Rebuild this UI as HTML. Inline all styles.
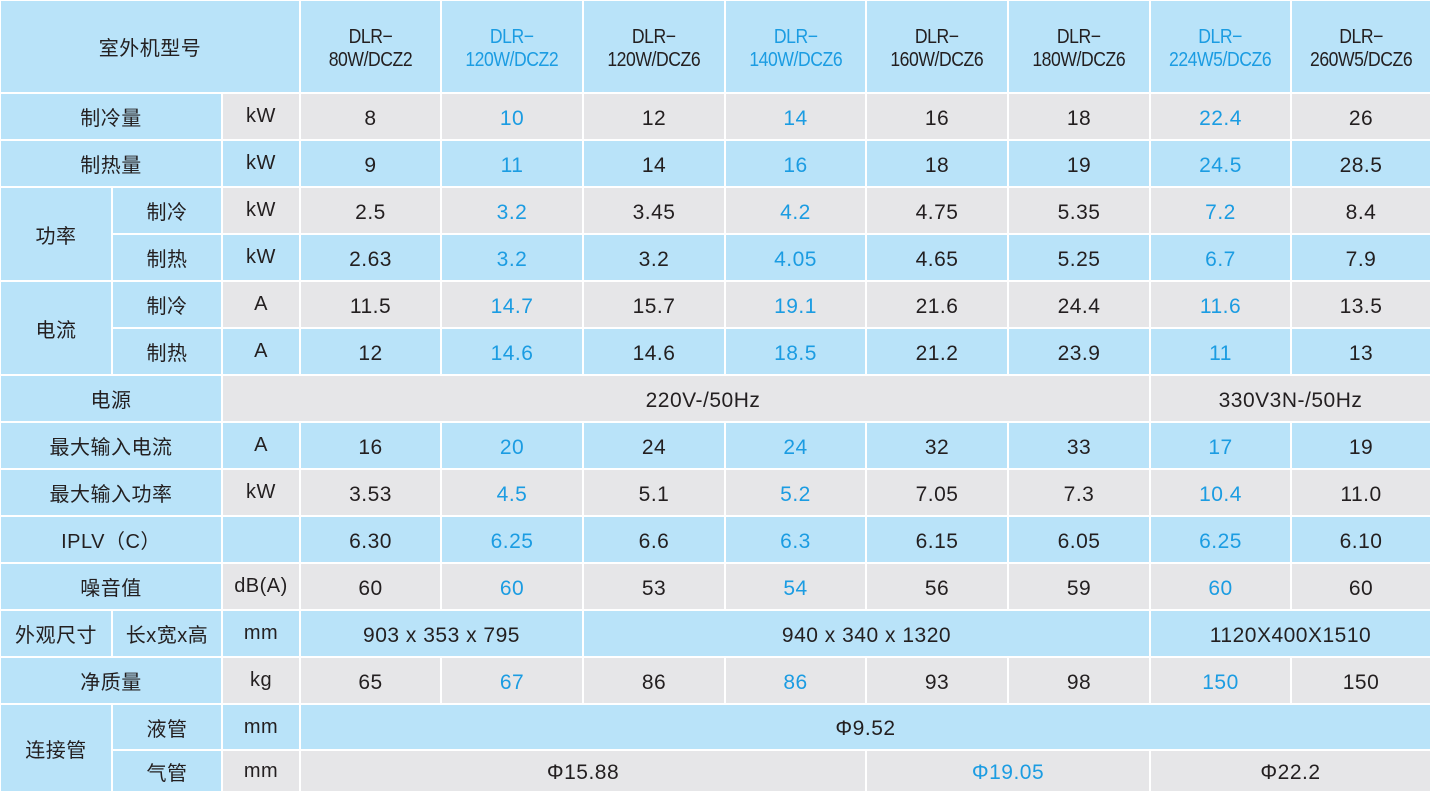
<!DOCTYPE html>
<html><head><meta charset="utf-8">
<style>
html,body{margin:0;padding:0;background:#fff;}
#t{position:relative;width:1431px;height:792px;overflow:hidden;background:#fff;font-family:"Liberation Sans","Noto Sans CJK SC",sans-serif;}
.c{position:absolute;box-sizing:border-box;display:flex;align-items:center;justify-content:center;text-align:center;color:#231f20;font-size:21px;padding-top:4px;letter-spacing:0.5px;}
.b{background:#b9e3f9;}
.g{background:#e6e6e8;}
.blue{color:#1b9ce2;}
.lbl{font-size:20px;padding-top:0;}
.hd{font-size:20px;line-height:23px;padding-top:4px;letter-spacing:-0.5px;}
.hd span{display:inline-block;transform:scaleX(0.88);}
</style></head>
<body>
<div id="t"></div>
<script>
const colX=[0,112,222,300,441,583,725,866,1008,1150,1291,1431];
const rowY=[0,93,140,187,234,281,328,375,422,469,516,563,610,657,704,750,792];
const models=["80W/DCZ2","120W/DCZ2","120W/DCZ6","140W/DCZ6","160W/DCZ6","180W/DCZ6","224W5/DCZ6","260W5/DCZ6"];
const blueCols=[1,3,6];
const coolCap=["8","10","12","14","16","18","22.4","26"];
const heatCap=["9","11","14","16","18","19","24.5","28.5"];
const powCool=["2.5","3.2","3.45","4.2","4.75","5.35","7.2","8.4"];
const powHeat=["2.63","3.2","3.2","4.05","4.65","5.25","6.7","7.9"];
const curCool=["11.5","14.7","15.7","19.1","21.6","24.4","11.6","13.5"];
const curHeat=["12","14.6","14.6","18.5","21.2","23.9","11","13"];
const maxCur=["16","20","24","24","32","33","17","19"];
const maxPow=["3.53","4.5","5.1","5.2","7.05","7.3","10.4","11.0"];
const iplv=["6.30","6.25","6.6","6.3","6.15","6.05","6.25","6.10"];
const noise=["60","60","53","54","56","59","60","60"];
const weight=["65","67","86","86","93","98","150","150"];
const T=document.getElementById('t');
function cell(x0,x1,y0,y1,cls,html,name){
  const d=document.createElement('div');
  d.className='c '+cls;
  d.style.left=(x0+1)+'px';d.style.top=(y0+1)+'px';
  d.style.width=(x1-x0-2)+'px';d.style.height=(y1-y0-2)+'px';
  d.innerHTML=html;
  
  
  T.appendChild(d);return d;
}
// header
cell(0,300,rowY[0],rowY[1],'b lbl','室外机型号','header-model-label');
models.forEach((m,i)=>{
  cell(colX[3+i],colX[4+i],rowY[0],rowY[1],'b hd'+(blueCols.includes(i)?' blue':''),'<span>DLR−<br>'+m+'</span>','header-model-'+(i+1));
});
function dataRow(r,vals,bg,name){
  vals.forEach((v,i)=>{
    cell(colX[3+i],colX[4+i],rowY[r],rowY[r+1],bg+(blueCols.includes(i)?' blue':''),v,name+'-'+(i+1));
  });
}
function unit(r,u,bg,name){cell(222,300,rowY[r],rowY[r+1],bg+' lbl',u,name+'-unit');}
// row1
cell(0,222,rowY[1],rowY[2],'b lbl','制冷量','cooling-capacity-label');unit(1,'kW','g','cooling-capacity');dataRow(1,coolCap,'g','cooling-capacity');
cell(0,222,rowY[2],rowY[3],'b lbl','制热量','heating-capacity-label');unit(2,'kW','b','heating-capacity');dataRow(2,heatCap,'b','heating-capacity');
cell(0,112,rowY[3],rowY[5],'b lbl','功率','power-label');
cell(112,222,rowY[3],rowY[4],'b lbl','制冷','power-cooling-label');unit(3,'kW','g','power-cooling');dataRow(3,powCool,'g','power-cooling');
cell(112,222,rowY[4],rowY[5],'b lbl','制热','power-heating-label');unit(4,'kW','b','power-heating');dataRow(4,powHeat,'b','power-heating');
cell(0,112,rowY[5],rowY[7],'b lbl','电流','current-label');
cell(112,222,rowY[5],rowY[6],'b lbl','制冷','current-cooling-label');unit(5,'A','g','current-cooling');dataRow(5,curCool,'g','current-cooling');
cell(112,222,rowY[6],rowY[7],'b lbl','制热','current-heating-label');unit(6,'A','b','current-heating');dataRow(6,curHeat,'b','current-heating');
cell(0,222,rowY[7],rowY[8],'b lbl','电源','power-supply-label');
cell(222,1150,rowY[7],rowY[8],'g','<span style="margin-left:34px">220V-/50Hz</span>','power-supply-single-phase');
cell(1150,1431,rowY[7],rowY[8],'g','330V3N-/50Hz','power-supply-three-phase');
cell(0,222,rowY[8],rowY[9],'b lbl','最大输入电流','max-input-current-label');unit(8,'A','b','max-input-current');dataRow(8,maxCur,'b','max-input-current');
cell(0,222,rowY[9],rowY[10],'b lbl','最大输入功率','max-input-power-label');unit(9,'kW','g','max-input-power');dataRow(9,maxPow,'g','max-input-power');
cell(0,222,rowY[10],rowY[11],'b lbl','IPLV（C）','iplv-label');unit(10,'','b','iplv');dataRow(10,iplv,'b','iplv');
cell(0,222,rowY[11],rowY[12],'b lbl','噪音值','noise-label');unit(11,'dB(A)','g','noise');dataRow(11,noise,'g','noise');
cell(0,112,rowY[12],rowY[13],'b lbl','外观尺寸','dimensions-label');
cell(112,222,rowY[12],rowY[13],'b lbl','长x宽x高','dimensions-sub-label');unit(12,'mm','b','dimensions');
cell(300,583,rowY[12],rowY[13],'b','903 x 353 x 795','dimensions-small');
cell(583,1150,rowY[12],rowY[13],'b','940 x 340 x 1320','dimensions-medium');
cell(1150,1431,rowY[12],rowY[13],'b','1120X400X1510','dimensions-large');
cell(0,222,rowY[13],rowY[14],'b lbl','净质量','net-weight-label');unit(13,'kg','g','net-weight');dataRow(13,weight,'g','net-weight');
cell(0,112,rowY[14],rowY[16],'b lbl','连接管','pipe-label');
cell(112,222,rowY[14],rowY[15],'b lbl','液管','liquid-pipe-label');unit(14,'mm','b','liquid-pipe');
cell(300,1431,rowY[14],rowY[15],'b','Φ9.52','liquid-pipe-value');
cell(112,222,rowY[15],rowY[16],'b lbl','气管','gas-pipe-label');unit(15,'mm','g','gas-pipe');
cell(300,866,rowY[15],rowY[16],'g','Φ15.88','gas-pipe-small');
cell(866,1150,rowY[15],rowY[16],'g blue','Φ19.05','gas-pipe-medium');
cell(1150,1431,rowY[15],rowY[16],'g','Φ22.2','gas-pipe-large');
</script>
</body></html>
